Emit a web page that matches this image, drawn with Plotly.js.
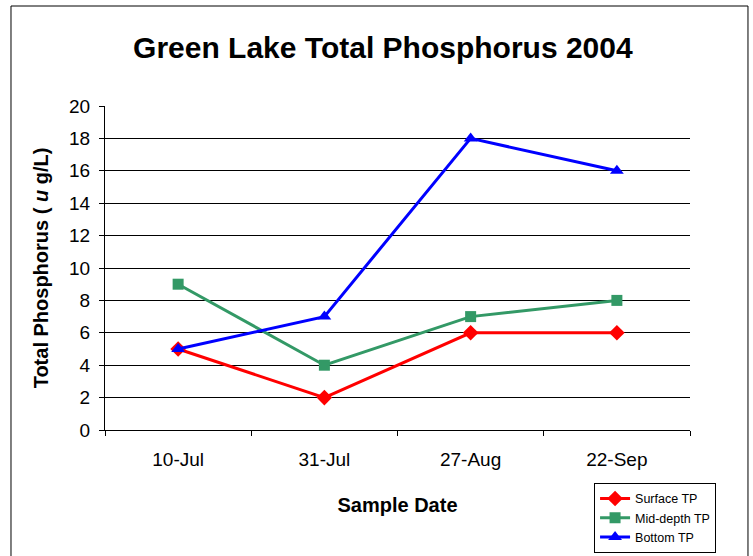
<!DOCTYPE html>
<html>
<head>
<meta charset="utf-8">
<script src="https://cdn.plot.ly/plotly-3.0.1.min.js"></script>
<style>
html,body{margin:0;padding:0;background:#fff;}
#chart{width:753px;height:556px;}
</style>
</head>
<body>
<div id="chart"></div>
<script>
const dates = ["10-Jul", "31-Jul", "27-Aug", "22-Sep"];
const surfaceTP = [5, 2, 6, 6];
const midDepthTP = [9, 4, 7, 8];
const bottomTP = [5, 7, 18, 16];
const yTicks = [0, 2, 4, 6, 8, 10, 12, 14, 16, 18, 20];

const traces = [
  {x: dates, y: surfaceTP, name: "Surface TP", type: "scatter", mode: "lines+markers",
   line: {color: "#FF0000", width: 3}, marker: {symbol: "diamond", size: 12, color: "#FF0000"}},
  {x: dates, y: midDepthTP, name: "Mid-depth TP", type: "scatter", mode: "lines+markers",
   line: {color: "#339966", width: 3}, marker: {symbol: "square", size: 11, color: "#339966"}},
  {x: dates, y: bottomTP, name: "Bottom TP", type: "scatter", mode: "lines+markers",
   line: {color: "#0000FF", width: 3}, marker: {symbol: "triangle-up", size: 12, color: "#0000FF"}}
];

const layout = {
  width: 753, height: 556,
  margin: {l: 105, r: 63, t: 106, b: 126, autoexpand: false},
  paper_bgcolor: "#fff", plot_bgcolor: "#fff",
  font: {family: "Arial, Liberation Sans, sans-serif", color: "#000"},
  title: {text: "<b>Green Lake Total Phosphorus 2004</b>", font: {size: 30, color: "#000"},
          x: 0.475, xref: "paper", xanchor: "center", y: 0.915, yanchor: "middle"},
  xaxis: {
    type: "category", range: [-0.5, 3.5],
    showline: true, linecolor: "#000", linewidth: 1,
    ticks: "outside", tickson: "boundaries", ticklen: 5, tickcolor: "#000",
    ticklabelstandoff: 12,
    showgrid: false, zeroline: false,
    tickfont: {size: 19, color: "#000"},
    title: {text: "<b>Sample Date</b>", font: {size: 20, color: "#000"}, standoff: 29}
  },
  yaxis: {
    range: [0, 20], tickvals: yTicks, ticktext: yTicks.map(String),
    showline: true, linecolor: "#000", linewidth: 1,
    ticks: "outside", ticklen: 5, tickcolor: "#000",
    ticklabelstandoff: 5,
    showgrid: true, gridcolor: "#000", gridwidth: 1, zeroline: false,
    tickfont: {size: 19, color: "#000"},
    title: {text: "<b>Total Phosphorus ( <i>u</i> g/L)</b>", font: {size: 20, color: "#000"}, standoff: 15}
  },
  showlegend: true,
  legend: {x: 0.836, y: -0.163, xanchor: "left", yanchor: "top",
           bordercolor: "#000", borderwidth: 1, bgcolor: "#fff",
           font: {size: 12.5, color: "#000"}, tracegroupgap: 0},
  shapes: [
    {type: "rect", xref: "paper", yref: "paper", x0: -0.1607, x1: 1.0991, y0: -0.42, y1: 1.3086,
     line: {color: "#000", width: 1}, fillcolor: "rgba(0,0,0,0)", layer: "below"}
  ]
};

Plotly.newPlot("chart", traces, layout, {displayModeBar: false, staticPlot: true});
</script>
</body>
</html>
